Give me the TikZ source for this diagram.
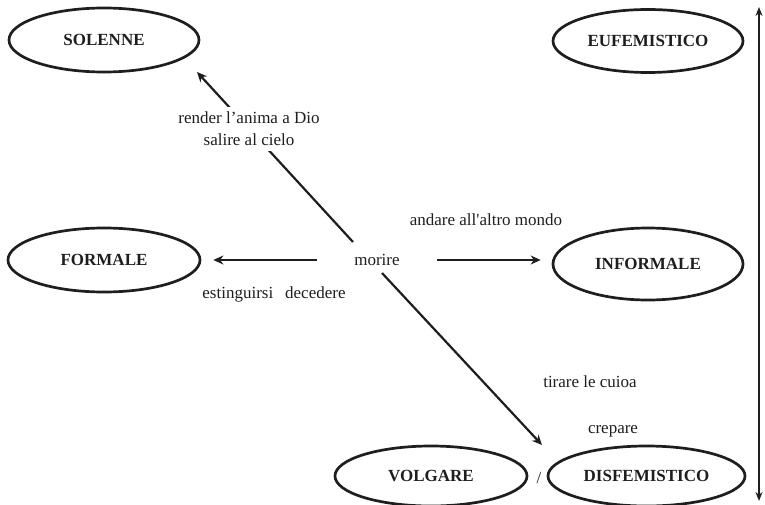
\documentclass[tikz,border=0pt]{standalone}
\usepackage{fontspec}
\setmainfont{Liberation Serif}
\usetikzlibrary{arrows.meta,shapes.geometric}
\definecolor{ink}{HTML}{1E1E1E}
\begin{document}
\begin{tikzpicture}[x=1pt,y=-1pt,
  register/.style={draw=ink,line width=2.7pt,ellipse,inner sep=0pt,
    font=\fontsize{17}{20}\selectfont\bfseries,text=ink},
  word/.style={font=\fontsize{17}{22}\selectfont,text=ink,inner sep=1pt},
  link/.style={draw=ink,line width=2.2pt,-{Stealth[length=10pt,width=9pt]}},
  scale arrow/.style={draw=ink,line width=1.7pt,{Stealth[length=9pt,width=7pt]}-{Stealth[length=9pt,width=7pt]}}]
\useasboundingbox (0,0) rectangle (765,505);

% register ellipses
\node[register,minimum width=190pt,minimum height=64pt] (solenne) at (104,40) {SOLENNE};
\node[register,minimum width=190pt,minimum height=63pt] (eufem) at (648,41) {EUFEMISTICO};
\node[register,minimum width=192pt,minimum height=64pt] (formale) at (104,260) {FORMALE};
\node[register,minimum width=190pt,minimum height=72pt] (informale) at (648,264) {INFORMALE};
\node[register,minimum width=192pt,minimum height=60pt] (volgare) at (431,476) {VOLGARE};
\node[register,minimum width=197pt,minimum height=60pt] (disfem) at (646.5,476) {DISFEMISTICO};

% central verb
\node[word] (morire) at (377,260) {morire};

% diagonal connector ends
\coordinate (upstart) at (353,242);
\coordinate (uptip) at (197,72);
\coordinate (downstart) at (382,273);
\coordinate (downtip) at (542,445);

% connectors
\draw[link] (upstart) -- (uptip);
\draw[link,shorten <=36pt,shorten >=12pt] (morire.west) -- (formale.east |- morire.west);
\draw[link,shorten <=36pt,shorten >=11pt] (morire.east) -- (informale.west |- morire.east);
\draw[link] (downstart) -- (downtip);

% scale from euphemistic to dysphemistic
\coordinate (scaletop) at (759,7);
\coordinate (scalebottom) at (759,501);
\draw[scale arrow] (scaletop) -- (scalebottom);

% expressions
\node[word,fill=white,align=center,inner ysep=5pt] (solexpr) at (249,129) {render l’anima a Dio\\salire al cielo};
\node[word] (infexpr) at (486,220) {andare all\textquotesingle altro mondo};
\node[word] (forexpr) at (274,294) {estinguirsi\hspace{0.7em}decedere};
\node[word] (disexpr1) at (590,382) {tirare le cuioa};
\node[word] (disexpr2) at (613,431) {crepare};
\node[word] (slash) at (539,478) {/};
\end{tikzpicture}
\end{document}
